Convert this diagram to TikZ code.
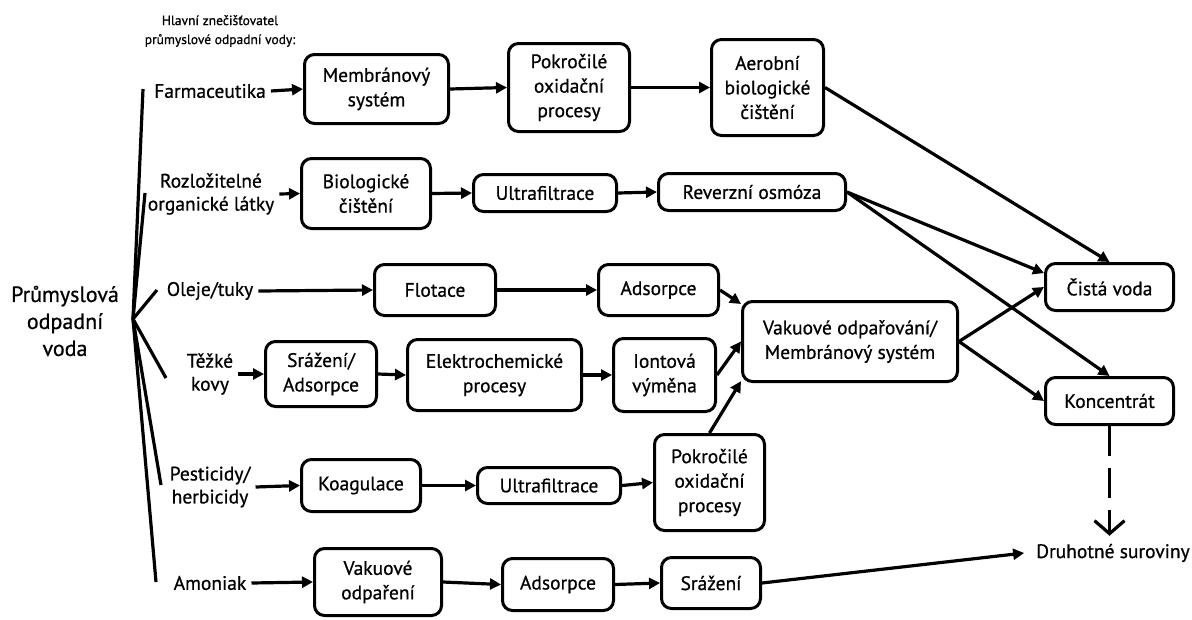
\documentclass[tikz,border=0pt]{standalone}
\usepackage{fontspec}
\setmainfont{PT Sans}[FakeBold=0.7]
\usetikzlibrary{arrows.meta}
\begin{document}
\begin{tikzpicture}[x=1pt,y=-1pt,
  box/.style={draw, line width=3pt, rounded corners=10pt, align=center,
    inner sep=0pt, font=\fontsize{19.5}{24.5}\selectfont},
  src/.style={align=center, inner sep=5pt, font=\fontsize{19.5}{23}\selectfont},
  flow/.style={line width=3.2pt, -{Triangle[length=11pt,width=11pt]}},
  fanline/.style={line width=3.2pt},
]
\useasboundingbox (0,0) rectangle (1192,619);

% headings
\node[align=center, font=\fontsize{13.5}{19}\selectfont] (head) at (220,31)
  {Hlavní znečišťovatel\\průmyslové odpadní vody:};
\node[align=center, font=\fontsize{22}{27}\selectfont] (main) at (65,321)
  {Průmyslová\\odpadní\\voda};

% fan of sources
\coordinate (hub) at (133,319);
\coordinate (f1) at (143,89);
\coordinate (f2) at (145,193);
\coordinate (f3) at (157,290);
\coordinate (f4) at (166,378);
\coordinate (f5) at (161,485);
\coordinate (f6) at (156,582);
\foreach \f in {f1,f2,f3,f4,f5,f6} \draw[fanline] (hub) -- (\f);

% source labels
\node[src] (far) at (210,91)  {Farmaceutika};
\node[src] (roz) at (211,194) {Rozložitelné\\organické látky};
\node[src] (ole) at (210,291) {Oleje/tuky};
\node[src] (tez) at (210,374) {Těžké\\kovy};
\node[src] (pes) at (210,487) {Pesticidy/\\herbicidy};
\node[src] (amo) at (210,583) {Amoniak};

% row 1
\node[box, minimum width=144pt, minimum height=69pt] (m1) at (376.5,89) {Membránový\\systém};
\node[box, minimum width=121pt, minimum height=88pt] (p1) at (569,87.5) {Pokročilé\\oxidační\\procesy};
\node[box, minimum width=112pt, minimum height=96pt] (a1) at (767.5,87.5) {Aerobní\\biologické\\čištění};
% row 2
\node[box, minimum width=129pt, minimum height=70pt] (b2) at (366,193.5) {Biologické\\čištění};
\node[box, minimum width=143pt, minimum height=37pt] (u2) at (545,193) {Ultrafiltrace};
\node[box, minimum width=187pt, minimum height=37pt] (rev) at (752,192) {Reverzní osmóza};
% row 3
\node[box, minimum width=121pt, minimum height=51pt] (flo) at (435,290) {Flotace};
\node[box, minimum width=120pt, minimum height=51pt] (ads3) at (658.5,290) {Adsorpce};
% row 4
\node[box, minimum width=111pt, minimum height=65pt] (sr4) at (321,374) {Srážení/\\Adsorpce};
\node[box, minimum width=174pt, minimum height=71pt] (el4) at (494.5,375) {Elektrochemické\\procesy};
\node[box, minimum width=102pt, minimum height=73pt] (ion) at (664.5,375) {Iontová\\výměna};
% row 5
\node[box, minimum width=119pt, minimum height=52pt] (koa) at (361,485.5) {Koagulace};
\node[box, minimum width=143pt, minimum height=36pt] (u5) at (549,485.5) {Ultrafiltrace};
\node[box, minimum width=110pt, minimum height=96pt] (p5) at (709.5,482.5) {Pokročilé\\oxidační\\procesy};
% row 6
\node[box, minimum width=127pt, minimum height=67pt] (vak6) at (378,582) {Vakuové\\odpaření};
\node[box, minimum width=111pt, minimum height=52pt] (ads6) at (558,584.5) {Adsorpce};
\node[box, minimum width=99pt, minimum height=51pt] (sraz) at (711,583) {Srážení};

% collecting and outputs
\node[box, minimum width=215pt, minimum height=80pt] (vak) at (850,341.5) {Vakuové odpařování/\\Membránový systém};
\node[box, minimum width=128pt, minimum height=47pt] (cista) at (1109.5,287) {Čistá voda};
\node[box, minimum width=128pt, minimum height=47pt] (konc) at (1109.5,401) {Koncentrát};
\node[font=\fontsize{19.5}{23}\selectfont, inner xsep=12pt, inner ysep=8pt] (dru) at (1113,553) {Druhotné suroviny};

% flows
\draw[flow] (far.east) -- (m1.west);
\draw[flow] (m1.east) -- (p1.west);
\draw[flow] (p1.east) -- (a1.west);
\draw[flow] (a1.east) -- (cista.north);

\draw[flow] (roz.east) -- (b2.west);
\draw[flow] (b2.east) -- (u2.west);
\draw[flow] (u2.east) -- (rev.west);
\draw[flow] (rev.east) -- (cista.168);
\draw[flow] (rev.east) -- (konc.north);

\draw[flow] (ole.east) -- (flo.west);
\draw[flow] (flo.east) -- (ads3.west);
\draw[flow] (ads3.east) -- (vak.161);

\draw[flow] (tez.east) -- (sr4.west);
\draw[flow] (sr4.east) -- (el4.west);
\draw[flow] (el4.east) -- (ion.west);
\draw[flow] (ion.east) -- (vak.west);

\draw[flow] (pes.east) -- (koa.west);
\draw[flow] (koa.east) -- (u5.west);
\draw[flow] (u5.east) -- (p5.west);
\draw[flow] (p5.north) -- (vak.200);

\draw[flow] (amo.east) -- (vak6.west);
\draw[flow] (vak6.east) -- (ads6.west);
\draw[flow] (ads6.east) -- (sraz.west);
\draw[flow] (sraz.east) -- (dru.west);

\draw[flow] (vak.east) -- (cista.west);
\draw[flow] (vak.east) -- (konc.west);

\draw[line width=3.2pt, dash pattern=on 30pt off 12pt,
  -{Straight Barb[length=13pt,width=30pt,line width=3.2pt]}]
  (konc.south) -- (konc.south |- dru.north);
\end{tikzpicture}
\end{document}
